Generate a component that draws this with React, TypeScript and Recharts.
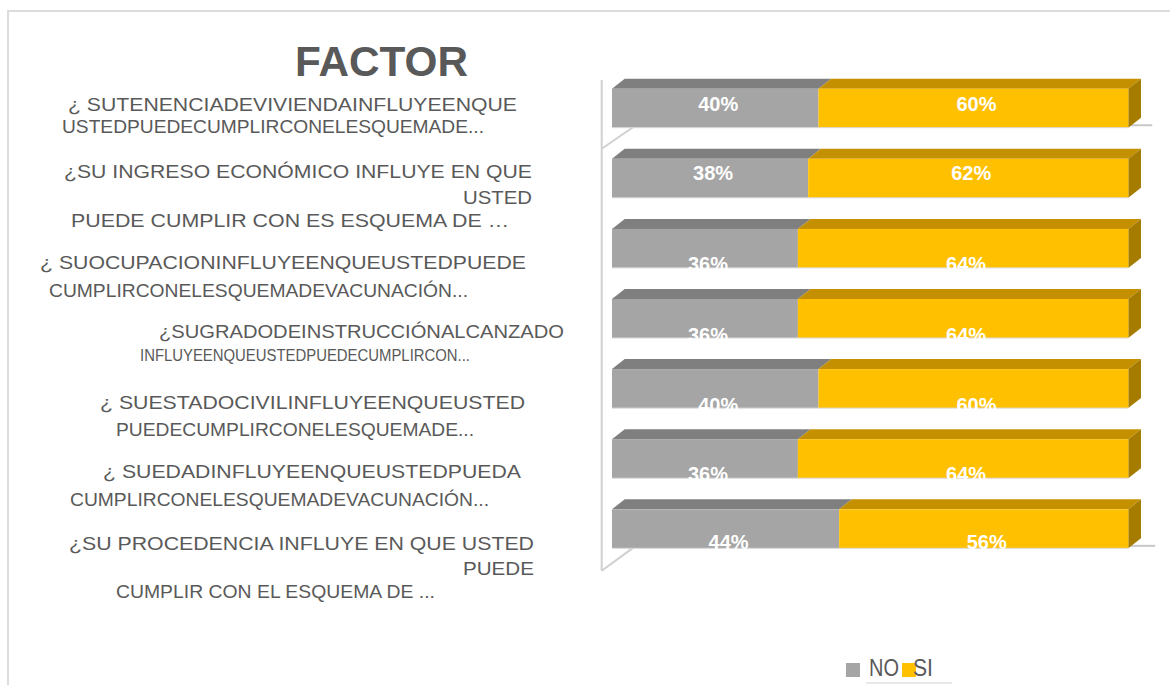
import React from 'react';
import { BarChart, Bar, XAxis, YAxis, LabelList } from 'recharts';

// texto de cada categoría, tal como aparece en el gráfico (por líneas)
const CATEGORY_LINES: string[][] = [
  ['¿ SUTENENCIADEVIVIENDAINFLUYEENQUE', 'USTEDPUEDECUMPLIRCONELESQUEMADE...'],
  ['¿SU INGRESO ECONÓMICO INFLUYE EN QUE', 'USTED', 'PUEDE CUMPLIR CON ES ESQUEMA DE …'],
  ['¿ SUOCUPACIONINFLUYEENQUEUSTEDPUEDE', 'CUMPLIRCONELESQUEMADEVACUNACIÓN...'],
  ['¿SUGRADODEINSTRUCCIÓNALCANZADO', 'INFLUYEENQUEUSTEDPUEDECUMPLIRCON...'],
  ['¿ SUESTADOCIVILINFLUYEENQUEUSTED', 'PUEDECUMPLIRCONELESQUEMADE...'],
  ['¿ SUEDADINFLUYEENQUEUSTEDPUEDA', 'CUMPLIRCONELESQUEMADEVACUNACIÓN...'],
  ['¿SU PROCEDENCIA INFLUYE EN QUE USTED', 'PUEDE', 'CUMPLIR CON EL ESQUEMA DE ...'],
];
const CATEGORY_KEYS = ['tenencia', 'ingreso', 'ocupacion', 'grado', 'civil', 'edad', 'procedencia'];
const NO_VALUES = [40, 38, 36, 36, 40, 36, 44];
const SI_VALUES = [60, 62, 64, 64, 60, 64, 56];
const SERIES_NAMES = ['NO', 'SI'];

const data = CATEGORY_KEYS.map((key, i) => ({ key, no: NO_VALUES[i], si: SI_VALUES[i] }));

// layout (px)
const W = 1170;
const H = 685;
const Y_AXIS_W = 600;
const MARGIN = { top: 72.7, right: 41.7, bottom: 121.6, left: 12 };
const PLOT_LEFT = MARGIN.left + Y_AXIS_W;
const PLOT_RIGHT = W - MARGIN.right;
const PLOT_TOP = MARGIN.top;
const PLOT_BOTTOM = H - MARGIN.bottom;
const BAND = (PLOT_BOTTOM - PLOT_TOP) / CATEGORY_KEYS.length;
const BAR_SIZE = 39;
const DEPTH_X = 12.7;
const DEPTH_Y = 10;
const FONT = '"Liberation Sans", Arial, sans-serif';
const TEXT = '#595959';

// por línea: [izquierda, derecha] respecto al eje, desplazamiento vertical, tamaño
const TICK_LAYOUT: number[][][] = [
  [[-544, -95, -3, 18.5], [-550, -128, 19, 18.5]],
  [[-548, -80, -6, 18.5], [-149, -80, 20, 18.5], [-541, -103, 43, 18.5]],
  [[-572, -86, 14, 18.5], [-563, -144, 42, 18.5]],
  [[-453, -48, 13, 18.5], [-472, -142, 37, 16]],
  [[-512, -87, 14, 18.5], [-496, -138, 41, 18.5]],
  [[-509, -91, 13, 18.5], [-542, -123, 41, 18.5]],
  [[-543, -78, 15, 18.5], [-149, -78, 40, 18.5], [-496, -177, 63, 18.5]],
];
// las etiquetas de las barras bajan a partir de la tercera fila
const LABEL_SHIFT = [-4, -5, 15, 16, 16, 15, 13];

function CategoryTick(props: any) {
  const { x, y, payload } = props;
  const i = CATEGORY_KEYS.indexOf(payload.value);
  if (i < 0) return null;
  return (
    <g>
      {CATEGORY_LINES[i].map((t, j) => {
        const [l, r, dy, fs] = TICK_LAYOUT[i][j];
        return (
          <text
            key={j}
            x={x + l}
            y={y + dy + fs * 0.358}
            textLength={r - l}
            lengthAdjust="spacingAndGlyphs"
            fontSize={fs}
            fontFamily={FONT}
            fill={TEXT}
          >
            {t}
          </text>
        );
      })}
    </g>
  );
}

function Bar3D(props: any) {
  const { x, y, width, height, front, top, side } = props;
  if (!width || !height) return null;
  return (
    <g>
      <path
        d={`M${x},${y} L${x + DEPTH_X},${y - DEPTH_Y} L${x + width + DEPTH_X},${y - DEPTH_Y} L${x + width},${y} Z`}
        fill={top}
      />
      {side && (
        <path
          d={`M${x + width},${y} L${x + width + DEPTH_X},${y - DEPTH_Y} L${x + width + DEPTH_X},${y + height - DEPTH_Y} L${x + width},${y + height} Z`}
          fill={side}
        />
      )}
      <rect x={x} y={y} width={width} height={height} fill={front} />
      <line x1={x} x2={x + width} y1={y + height} y2={y + height} stroke="#d9d9d9" strokeWidth={1} />
    </g>
  );
}

function BarLabel(props: any) {
  const { x, y, width, height, value } = props;
  const row = Math.round((y + height / 2 - PLOT_TOP - BAND / 2) / BAND);
  const shift = LABEL_SHIFT[row] ?? 0;
  return (
    <text
      x={x + width / 2 + 3}
      y={y + height / 2 + shift + 20 * 0.358}
      textAnchor="middle"
      fontSize={20}
      fontWeight="bold"
      fontFamily={FONT}
      fill="#ffffff"
    >
      {`${value}%`}
    </text>
  );
}

export default function App() {
  const row1Bottom = PLOT_TOP + (BAND + BAR_SIZE) / 2;
  const row7Bottom = PLOT_BOTTOM - (BAND - BAR_SIZE) / 2;
  const wallX = PLOT_LEFT - 10.3;

  return (
    <div style={{ position: 'fixed', left: 0, top: 0, width: W, height: H, overflow: 'hidden', background: '#fff' }}>
      <div
        style={{
          position: 'absolute', left: 7, top: 10, width: 1220, height: 720,
          border: '2px solid #dcdcdc', boxSizing: 'border-box',
        }}
      />
      <svg width={W} height={H} style={{ position: 'absolute', left: 0, top: 0 }}>
        <text x={381.5} y={76} textAnchor="middle" fontSize={42} fontWeight="bold" fontFamily={FONT} fill={TEXT}
          textLength={173} lengthAdjust="spacingAndGlyphs">
          FACTOR
        </text>
        {/* paredes del gráfico 3D */}
        <g stroke="#d0d0d0" strokeWidth={2} fill="none">
          <line x1={wallX} x2={wallX} y1={PLOT_TOP + 7.3} y2={PLOT_BOTTOM + 7.3} />
          <line x1={wallX} y1={PLOT_BOTTOM + 7.3} x2={PLOT_LEFT + 21} y2={row7Bottom} />
          <line x1={wallX} y1={row1Bottom + 21.5} x2={PLOT_LEFT + 21} y2={row1Bottom} />
          <line x1={PLOT_RIGHT} x2={PLOT_RIGHT + 24} y1={row1Bottom - 2} y2={row1Bottom - 2} stroke="#c8c8c8" />
          <line x1={PLOT_RIGHT} x2={PLOT_RIGHT + 27} y1={row7Bottom - 2} y2={row7Bottom - 2} stroke="#c8c8c8" />
        </g>
        {/* leyenda */}
        <line x1={866} x2={952} y1={683} y2={683} stroke="#e0e0e0" strokeWidth={1.5} />
        <rect x={846} y={663} width={14} height={14} fill="#a5a5a5" />
        <text x={869} y={676} fontSize={23} fontFamily={FONT} fill={TEXT} textLength={30} lengthAdjust="spacingAndGlyphs">
          {SERIES_NAMES[0]}
        </text>
        <rect x={902} y={663} width={14} height={14} fill="#ffc000" />
        <text x={913} y={676} fontSize={23} fontFamily={FONT} fill={TEXT} textLength={20} lengthAdjust="spacingAndGlyphs">
          {SERIES_NAMES[1]}
        </text>
      </svg>
      <div style={{ position: 'absolute', left: 0, top: 0 }}>
        <BarChart width={W} height={H} data={data} layout="vertical" margin={MARGIN} barSize={BAR_SIZE}>
          <XAxis type="number" domain={[0, 100]} hide />
          <YAxis
            type="category"
            dataKey="key"
            width={Y_AXIS_W}
            axisLine={false}
            tickLine={false}
            tickSize={0}
            tickMargin={0}
            interval={0}
            tick={<CategoryTick />}
          />
          <Bar
            dataKey="no"
            name={SERIES_NAMES[0]}
            stackId="a"
            isAnimationActive={false}
            shape={(p: any) => <Bar3D {...p} front="#a5a5a5" top="#7f7f7f" />}
          >
            <LabelList dataKey="no" content={<BarLabel />} />
          </Bar>
          <Bar
            dataKey="si"
            name={SERIES_NAMES[1]}
            stackId="a"
            isAnimationActive={false}
            shape={(p: any) => <Bar3D {...p} front="#ffc000" top="#c49000" side="#a67c00" />}
          >
            <LabelList dataKey="si" content={<BarLabel />} />
          </Bar>
        </BarChart>
      </div>
    </div>
  );
}
